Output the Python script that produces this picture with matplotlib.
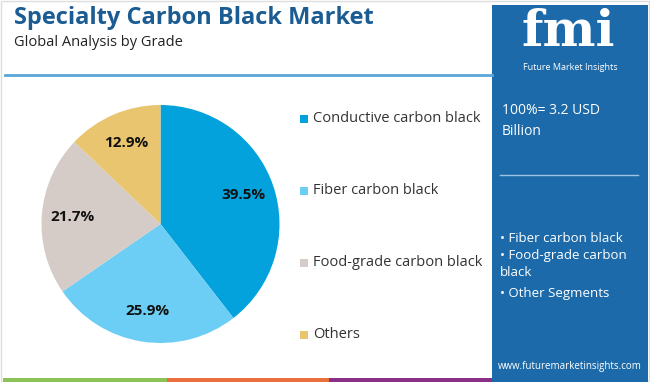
import matplotlib.pyplot as plt
from matplotlib.patches import Rectangle

# Data
segments = ['Conductive carbon black', 'Fiber carbon black', 'Food-grade carbon black', 'Others']
shares = [39.5, 25.9, 21.7, 12.9]
colors = ['#04a2dc', '#6ccef4', '#d5ccc8', '#e9c56f']
title = 'Specialty Carbon Black Market'
subtitle = 'Global Analysis by Grade'
total_text = '100%= 3.2 USD\nBillion'
side_items = ['• Fiber carbon black', '• Food-grade carbon\nblack', '• Other Segments']

W, H = 650, 382
fig = plt.figure(figsize=(W / 100, H / 100), dpi=100)
fig.patch.set_facecolor('white')


def fx(px):
    return px / W


def fy(py):
    return 1 - py / H


# outer frame
fig.patches.append(Rectangle((fx(1), fy(381)), fx(648), 380 / H, transform=fig.transFigure,
                             fill=False, edgecolor='#dddddd', linewidth=1))

# header
fig.text(fx(14), fy(18), title, fontsize=17, fontweight='bold', color='#1b5c93',
         family='Open Sans', va='center', ha='left')
fig.text(fx(14), fy(42), subtitle, fontsize=10.5, color='#222222',
         family='Open Sans', va='center', ha='left')
fig.add_artist(plt.Line2D([fx(5), fx(492)], [fy(75), fy(75)], color='#5aa6d6', linewidth=2))

# bottom colour bar
for x0, x1, c in [(3, 167, '#8dc257'), (167, 329, '#e96f3d'), (329, 494, '#8a2f86')]:
    fig.patches.append(Rectangle((fx(x0), 0), fx(x1 - x0), 4 / H, transform=fig.transFigure,
                                 color=c, linewidth=0))

# pie
cx, cy, r = 160.5, 224, 119
ax = fig.add_axes([fx(cx - r), fy(cy + r), 2 * r / W, 2 * r / H])
ax.pie(shares, colors=colors, startangle=90, counterclock=False,
       autopct='%1.1f%%', pctdistance=0.74,
       textprops=dict(fontsize=11, fontweight='bold', color='#111111', family='Open Sans'))
ax.set_xlim(-1, 1)
ax.set_ylim(-1, 1)
ax.set_aspect('auto')
ax.axis('off')

# legend
for i, (lab, c) in enumerate(zip(segments, colors)):
    y = 119 + i * 72
    fig.patches.append(Rectangle((fx(300), fy(y + 4)), fx(8), 8 / H, transform=fig.transFigure,
                                 color=c, linewidth=0))
    fig.text(fx(313), fy(y), lab, fontsize=10.5, color='#333333', family='Open Sans',
             va='center', ha='left')

# right panel
fig.patches.append(Rectangle((fx(492), 0), fx(156), fy(5), transform=fig.transFigure,
                             color='#1c6aa9', linewidth=0))
fig.text(fx(568), fy(32), 'fmi', fontsize=36, fontweight='bold', color='white',
         family='DejaVu Serif', va='center', ha='center')
fig.text(fx(570), fy(67), 'Future Market Insights', fontsize=6.5, color='white',
         family='Open Sans', va='center', ha='center')
fig.text(fx(502), fy(121), total_text, fontsize=10, color='white', family='Open Sans',
         va='center', ha='left', linespacing=1.6)
fig.add_artist(plt.Line2D([fx(500), fx(638)], [fy(175), fy(175)], color='#9cc3e3', linewidth=1))
fig.text(fx(500), fy(238), side_items[0], fontsize=9.5, color='white', family='Open Sans',
         va='center', ha='left')
fig.text(fx(500), fy(264), side_items[1], fontsize=9.5, color='white', family='Open Sans',
         va='center', ha='left', linespacing=1.3)
fig.text(fx(500), fy(293), side_items[2], fontsize=9.5, color='white', family='Open Sans',
         va='center', ha='left')
fig.text(fx(570), fy(366), 'www.futuremarketinsights.com', fontsize=7, color='white',
         family='Open Sans', va='center', ha='center')

fig.savefig('out.png', dpi=100)
